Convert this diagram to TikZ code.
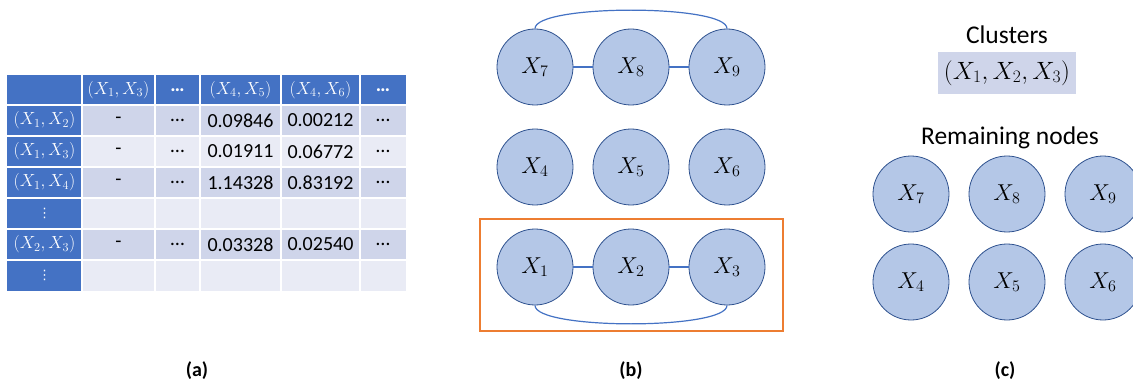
\RequirePackage{fix-cm}
\documentclass[tikz,border=0pt]{standalone}
\usepackage{fontspec}
\setmainfont{Carlito}
\newfontfamily\dejavu{DejaVu Sans}
\definecolor{hdr}{HTML}{4472C4}
\definecolor{rowdark}{HTML}{CFD5EA}
\definecolor{rowlight}{HTML}{E9EBF5}
\definecolor{cfill}{HTML}{B4C7E7}
\definecolor{cline}{HTML}{2F528F}
\definecolor{edgec}{HTML}{4472C4}
\definecolor{orng}{HTML}{ED7D31}
\tikzset{
  gnode/.style={circle, minimum size=76pt, inner sep=0pt, fill=cfill, draw=cline, line width=0.8pt, font=\fontsize{23}{27}\selectfont},
  gedge/.style={draw=edgec, line width=1.2pt},
  tcell/.style={inner sep=0pt, font=\fontsize{20}{23}\selectfont, text=black},
  tmath/.style={inner sep=0pt, font=\fontsize{17.5}{20}\selectfont, text=white},
  tdots/.style={inner sep=0pt, font=\dejavu\fontsize{13}{15}\selectfont, text=white},
  caption/.style={inner sep=0pt, font=\fontsize{20}{24}\selectfont\bfseries},
  heading/.style={inner sep=0pt, font=\fontsize{25.5}{30}\selectfont},
}
\begin{document}
\begin{tikzpicture}[x=1pt,y=-1pt]
\clip (0,0) rectangle (1133,385);
\fill[white] (0,0) rectangle (1133,385);
% ---------- (a) table ----------
\fill[hdr] (7,75) rectangle (406,105);
\fill[hdr] (7,105) rectangle (82,291);
\foreach \y in {105,167,229} \fill[rowdark] (82,\y) rectangle (406,\y+31);
\foreach \y in {136,198,260} \fill[rowlight] (82,\y) rectangle (406,\y+31);
\foreach \x in {82,155,200,281,360} \draw[white, line width=2pt] (\x,75) -- (\x,291);
\foreach \y in {105,136,167,198,229,260} \draw[white, line width=2pt] (7,\y) -- (406,\y);
% header
\node[tmath] (h1) at (118.5,90) {$(X_1,X_3)$};
\node[tcell, text=white] (h2) at (177.5,90) {\bfseries …};
\node[tmath] (h3) at (240.5,90) {$(X_4,X_5)$};
\node[tmath] (h4) at (320.5,90) {$(X_4,X_6)$};
\node[tcell, text=white] (h5) at (383,90) {\bfseries …};
% row labels
\node[tmath] (l1) at (44.5,120.5) {$(X_1,X_2)$};
\node[tmath] (l2) at (44.5,151.5) {$(X_1,X_3)$};
\node[tmath] (l3) at (44.5,182.5) {$(X_1,X_4)$};
\node[tdots] (l4) at (44.5,213.5) {⋮};
\node[tmath] (l5) at (44.5,244.5) {$(X_2,X_3)$};
\node[tdots] (l6) at (44.5,275.5) {⋮};
% body
\node[tcell] (r1a) at (118.5,120.5) {-};
\node[tcell] (r1b) at (177.5,120.5) {…};
\node[tcell] (r1c) at (240.5,120.5) {0.09846};
\node[tcell] (r1d) at (320.5,120.5) {0.00212};
\node[tcell] (r1e) at (383,120.5) {…};
\node[tcell] (r2a) at (118.5,151.5) {-};
\node[tcell] (r2b) at (177.5,151.5) {…};
\node[tcell] (r2c) at (240.5,151.5) {0.01911};
\node[tcell] (r2d) at (320.5,151.5) {0.06772};
\node[tcell] (r2e) at (383,151.5) {…};
\node[tcell] (r3a) at (118.5,182.5) {-};
\node[tcell] (r3b) at (177.5,182.5) {…};
\node[tcell] (r3c) at (240.5,182.5) {1.14328};
\node[tcell] (r3d) at (320.5,182.5) {0.83192};
\node[tcell] (r3e) at (383,182.5) {…};
\node[tcell] (r5a) at (118.5,244.5) {-};
\node[tcell] (r5b) at (177.5,244.5) {…};
\node[tcell] (r5c) at (240.5,244.5) {0.03328};
\node[tcell] (r5d) at (320.5,244.5) {0.02540};
\node[tcell] (r5e) at (383,244.5) {…};
% ---------- (b) graph ----------
\draw[orng, line width=1.2pt] (480,219) rectangle (783,331);
\node[gnode] (b7) at (535,67) {$X_7$};
\node[gnode] (b8) at (631,67) {$X_8$};
\node[gnode] (b9) at (727,67) {$X_9$};
\node[gnode] (b4) at (535,167) {$X_4$};
\node[gnode] (b5) at (631,167) {$X_5$};
\node[gnode] (b6) at (727,167) {$X_6$};
\node[gnode] (b1) at (535,267) {$X_1$};
\node[gnode] (b2) at (631,267) {$X_2$};
\node[gnode] (b3) at (727,267) {$X_3$};
\draw[gedge] (b7) -- (b8);
\draw[gedge] (b8) -- (b9);
\draw[gedge] (b1) -- (b2);
\draw[gedge] (b2) -- (b3);
\draw[gedge] (b7.north) .. controls (535,4) and (727,4) .. (b9.north);
\draw[gedge] (b1.south) .. controls (535,330) and (727,330) .. (b3.south);
% ---------- (c) ----------
\node[heading] (clt) at (1007,35) {Clusters};
\node[fill=rowdark, minimum width=138pt, minimum height=42pt, inner sep=0pt, font=\fontsize{25}{29}\selectfont] (clbox) at (1007,73) {$(X_1,X_2,X_3)$};
\node[heading] (rem) at (1010,138) {Remaining nodes};
\node[gnode] (c7) at (911,194) {$X_7$};
\node[gnode] (c8) at (1007,194) {$X_8$};
\node[gnode] (c9) at (1103,194) {$X_9$};
\node[gnode] (c4) at (911,282) {$X_4$};
\node[gnode] (c5) at (1007,282) {$X_5$};
\node[gnode] (c6) at (1103,282) {$X_6$};
% ---------- captions ----------
\node[caption] (capa) at (197,371) {(a)};
\node[caption] (capb) at (631,371) {(b)};
\node[caption] (capc) at (1005,371) {(c)};
\end{tikzpicture}
\end{document}
